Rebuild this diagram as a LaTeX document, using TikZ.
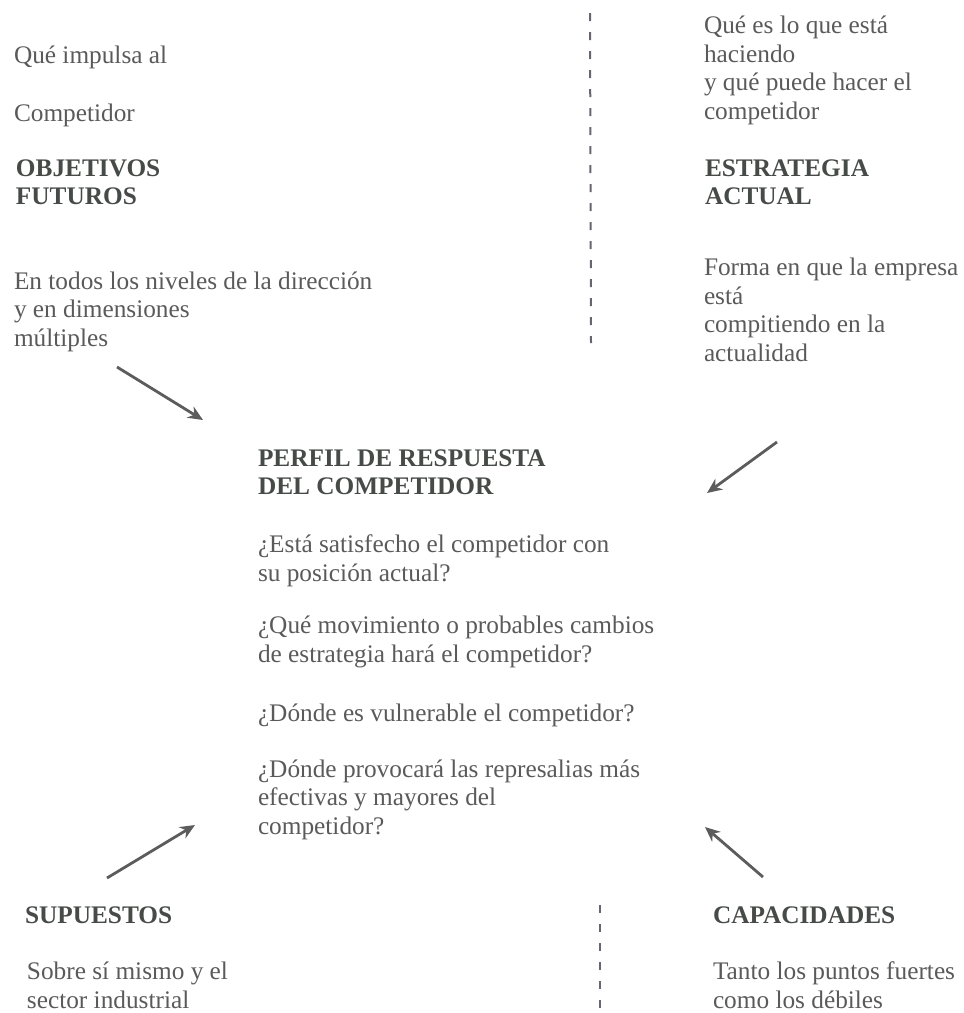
\documentclass[tikz,border=0pt]{standalone}
\usepackage{fontspec}
\setmainfont{Liberation Serif}
\usepackage{xcolor}
\usetikzlibrary{arrows.meta}
\definecolor{txtG}{HTML}{5A5A5A}
\definecolor{headG}{HTML}{474B48}
\definecolor{arrG}{HTML}{5C5C5C}
\definecolor{dashG}{HTML}{6A6470}

\begin{document}
\begin{tikzpicture}[x=1pt, y=-1pt,
  every node/.style={inner sep=0pt, outer sep=0pt, anchor=base west, align=left,
                     font=\fontsize{25.3}{28.5}\selectfont, text=txtG},
  head/.style={font=\fontsize{25.3}{28}\selectfont\bfseries, text=headG},
  arr/.style={-{Stealth[length=15pt, width=13pt]}, line width=2.8pt, arrG},
  sepline/.style={dash pattern=on 8pt off 11pt, line width=2pt, dashG}
]
  \useasboundingbox (0,0) rectangle (964,1013);
  % ---- objetivos futuros (top left) ----
  \node (impulsa)   at (14,63)  {Qué impulsa al};
  \node (compet)    at (14,121) {Competidor};
  \node[head] (objetivos) at (16,204) {OBJETIVOS\\FUTUROS};
  \node (niveles)   at (14,346) {En todos los niveles de la dirección\\y en dimensiones\\múltiples};
  % ---- estrategia actual (top right) ----
  \node (haciendo)  at (704,119) {Qué es lo que está\\haciendo\\y qué puede hacer el\\competidor};
  \node[head] (estrategia) at (705,204) {ESTRATEGIA\\ACTUAL};
  \node (forma)     at (704,361) {Forma en que la empresa\\está\\compitiendo en la\\actualidad};
  % ---- perfil de respuesta (centre) ----
  \node[head] (perfil) at (258,494) {PERFIL DE RESPUESTA\\DEL COMPETIDOR};
  \node (satisfecho)  at (258,581) {¿Está satisfecho el competidor con\\su posición actual?};
  \node (movimiento)  at (258,662) {¿Qué movimiento o probables cambios\\de estrategia hará el competidor?};
  \node (vulnerable)  at (258,721) {¿Dónde es vulnerable el competidor?};
  \node (represalias) at (258,834) {¿Dónde provocará las represalias más\\efectivas y mayores del\\competidor?};
  % ---- supuestos / capacidades (bottom) ----
  \node[head] (supuestos)   at (25,923)  {SUPUESTOS};
  \node (sobre)             at (27,1008) {Sobre sí mismo y el\\sector industrial};
  \node[head] (capacidades) at (713,923) {CAPACIDADES};
  \node (tanto)             at (713,1008) {Tanto los puntos fuertes\\como los débiles};
  % ---- arrows into the centre ----
  \coordinate (objT) at (117,367);  \coordinate (objH) at (203,420);
  \coordinate (estT) at (777,442);  \coordinate (estH) at (707,493);
  \coordinate (supT) at (107,878);  \coordinate (supH) at (195,825);
  \coordinate (capT) at (763,877);  \coordinate (capH) at (705,827);
  \draw[arr] (objT) -- (objH);
  \draw[arr] (estT) -- (estH);
  \draw[arr] (supT) -- (supH);
  \draw[arr] (capT) -- (capH);
  % ---- dashed separators ----
  \coordinate (sepA) at (590,13);   \coordinate (sepB) at (591,343);
  \coordinate (sepC) at (600,905);  \coordinate (sepD) at (600,1008);
  \draw[sepline] (sepA) -- (sepB);
  \draw[sepline] (sepC) -- (sepD);
\end{tikzpicture}
\end{document}
